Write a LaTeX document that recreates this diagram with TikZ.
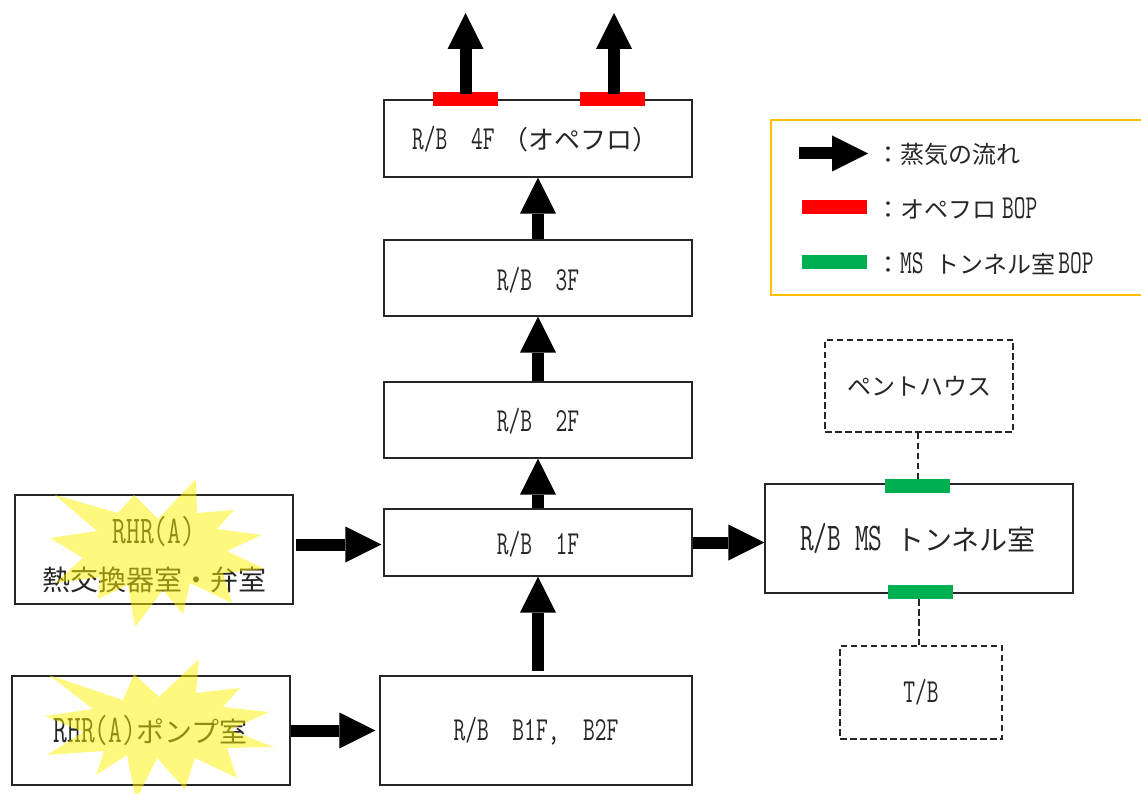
\documentclass[tikz,border=0pt]{standalone}
\usepackage{fontspec}
\setmainfont{Latin Modern Mono}[Scale=1.4, FakeStretch=0.68]
\newfontfamily\jpfont{Noto Sans CJK JP}
\newcommand{\jp}[1]{{\jpfont #1}}
\usetikzlibrary{arrows.meta}
\definecolor{bopgreen}{HTML}{00B050}
\definecolor{legendorange}{HTML}{FFC000}
\tikzset{
    room/.style={draw=black!85, line width=1.2pt, inner sep=0pt},
    dashroom/.style={room, dashed, line width=1.4pt, dash pattern=on 6.5pt off 3.5pt},
    flow/.style={draw=black, line width=12pt, -{Triangle[length=36pt, width=36pt, line width=0pt]}},
    redbop/.style={fill=red, minimum width=65pt, minimum height=14pt, inner sep=0pt},
    greenbop/.style={fill=bopgreen, minimum width=65pt, minimum height=14pt, inner sep=0pt},
    burst/.style={fill=yellow, opacity=0.5},
    label/.style={inner sep=0pt, text=black!85, font=\fontsize{24}{30}\selectfont},
    biglabel/.style={inner sep=0pt, text=black!85, font=\fontsize{28}{47}\selectfont},
    legendtext/.style={label, anchor=west}
}
\begin{document}
\begin{tikzpicture}[x=1pt, y=-1pt]
    \useasboundingbox (0,0) rectangle (1141,794);
    % building floors
    \node[room, minimum width=308pt, minimum height=77pt] (fourF) at (538,138.5) {};
    \node[room, minimum width=308pt, minimum height=76pt] (threeF) at (538,278) {};
    \node[room, minimum width=308pt, minimum height=76pt] (twoF) at (538,420) {};
    \node[room, minimum width=308pt, minimum height=67pt] (oneF) at (538,542.5) {};
    \node[room, minimum width=312pt, minimum height=109pt] (baseF) at (536,730.5) {};
    \node[legendtext] (fourFtext) at (412,139) {R/B\ \ 4F\hspace{8pt}{\fontsize{26}{30}\selectfont\jp{（オペフロ）}}};
    \node[label] (threeFtext) at (538,280) {R/B\ \ 3F};
    \node[label] (twoFtext) at (538,421) {R/B\ \ 2F};
    \node[label] (oneFtext) at (538,544) {R/B\ \ 1F};
    \node[label] (baseFtext) at (536,731) {R/B\ \ B1F,\ \ B2F};
    % side rooms
    \node[room, minimum width=308pt, minimum height=109pt] (msroom) at (919,538.5) {};
    \node[biglabel] (msroomtext) at (918,539) {R/B\ MS\ \jp{トンネル室}};
    \node[dashroom, label, draw=black!85, minimum width=188pt, minimum height=92pt] (penthouse) at (919,386) {\jp{ペントハウス}};
    \node[dashroom, label, draw=black!85, minimum width=162pt, minimum height=93pt] (turbine) at (921,692.5) {T/B};
    % rooms with the leak
    \node[room, minimum width=278pt, minimum height=109pt] (hxroom) at (154,549.5) {};
    \node[biglabel, align=center] (hxtext) at (154,555) {RHR(A)\\\jp{熱交換器室・弁室}};
    \node[room, minimum width=278pt, minimum height=109pt] (pumproom) at (151,730.5) {};
    \node[biglabel] (pumptext) at (150.5,731) {RHR(A)\jp{ポンプ室}};
    \fill[burst] (196,479)--(197,513)--(234,510)--(217,529)--(262,535)--(227,551)--(265,569)--(223,573)
        --(232,603)--(190,583)--(183,614)--(163,590)--(135,627)--(128,585)--(98,599)--(100,577)
        --(55,583)--(83,558)--(50,538)--(97,531)--(55,495)--(118,513)--(134,495)--(158,519)--cycle;
    \fill[burst] (199,659)--(196,693)--(240,688)--(223,707)--(269,712)--(230,730)--(274,747)--(227,748)
        --(237,778)--(195,758)--(185,789)--(157,758)--(136,800)--(127,755)--(96,775)--(104,751)
        --(47,755)--(83,732)--(45,716)--(93,709)--(49,675)--(123,700)--(134,674)--(159,697)--cycle;
    % bop panels
    \node[redbop] (bopA) at (465.5,99) {};
    \node[redbop] (bopB) at (612.5,99) {};
    \node[greenbop] (bopC) at (917.5,486) {};
    \node[greenbop] (bopD) at (920.5,592) {};
    \coordinate (ventA) at (465.5,13);
    \coordinate (ventB) at (614,13);
    % steam flow
    \draw[flow] ([yshift=-2pt]bopA.north) -- (ventA);
    \draw[flow] ([xshift=1.5pt, yshift=-2pt]bopB.north) -- (ventB);
    \draw[flow] (threeF.north) -- (fourF.south);
    \draw[flow] (twoF.north) -- (threeF.south);
    \draw[flow] (oneF.north) -- (twoF.south);
    \draw[flow] ([yshift=4pt]oneF.south |- baseF.north) -- (oneF.south);
    \draw[flow] ([xshift=2pt, yshift=5pt]hxroom.east) -- ([xshift=-2pt, yshift=-2pt]oneF.west);
    \draw[flow, shorten >=4pt] (pumproom.east) -- (baseF.west);
    \draw[flow] (oneF.east) -- (oneF.east -| msroom.west);
    \draw[dashroom] ([xshift=-1pt]penthouse.south) -- ([xshift=-1pt]penthouse.south |- bopC.north);
    \draw[dashroom] ([xshift=-1.5pt]bopD.south) -- ([xshift=-1.5pt]bopD.south |- turbine.north);
    % legend
    \node[draw=legendorange, line width=1.5pt, minimum width=390pt, minimum height=175pt] (legendbox) at (966,207.5) {};
    \coordinate (legendA) at (799,153.5);
    \coordinate (legendB) at (868,153.5);
    \draw[flow] (legendA) -- (legendB);
    \node[redbop] (legendred) at (834.5,207) {};
    \node[greenbop] (legendgreen) at (834.5,262) {};
    \node[legendtext] (steamtext) at (876,154) {\jp{：蒸気の流れ}};
    \node[legendtext] (oftext) at (876,208) {\jp{：オペフロ}\hspace{6pt}BOP};
    \node[legendtext] (mstext) at (876,264) {\jp{：}MS\hspace{12pt}\jp{トンネル室}\hspace{3pt}BOP};
\end{tikzpicture}
\end{document}
